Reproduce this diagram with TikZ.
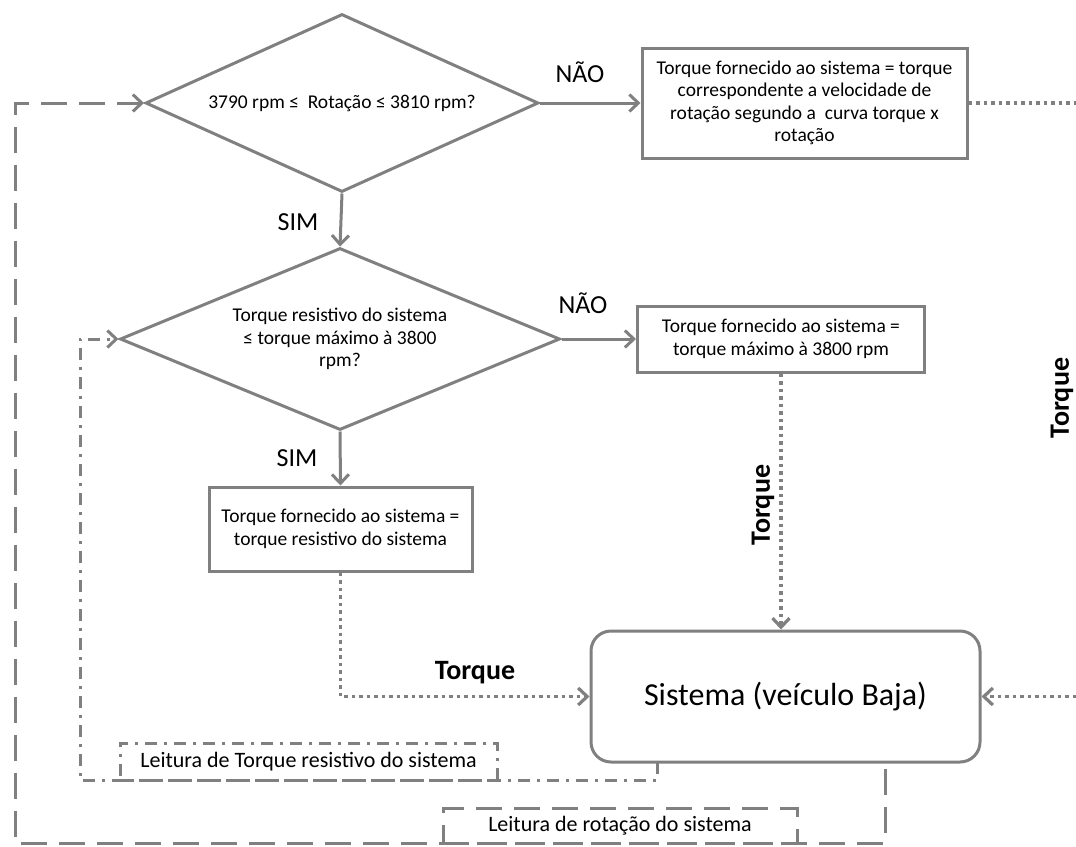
\documentclass[tikz,border=0pt]{standalone}
\usepackage{fontspec}
\setmainfont{Carlito}
\usetikzlibrary{arrows.meta,shapes.geometric}
\definecolor{linegray}{RGB}{128,128,128}

\begin{document}
\begin{tikzpicture}[x=1pt,y=-1pt,
  >={Straight Barb[length=9pt,width=17pt]},
  txt/.style={font=\fontsize{19.5}{22.5}\selectfont, align=center, text=black},
  flow/.style={draw=linegray, line width=3pt},
  decision/.style={flow, diamond, aspect=2.3, inner sep=0pt, txt},
  stepbox/.style={flow, rectangle, inner sep=0pt, txt},
  answer/.style={font=\fontsize{26}{30}\selectfont, text=black},
  signal/.style={font=\bfseries\fontsize{28}{32}\selectfont, text=black, inner sep=0pt},
  readlabel/.style={font=\fontsize{22}{26}\selectfont, text=black, inner sep=0pt},
  solidline/.style={flow, ->},
  dottedline/.style={draw=linegray, line width=3.2pt, dash pattern=on 3.5pt off 4pt},
  dashline/.style={draw=linegray, line width=3pt, dash pattern=on 26pt off 12pt},
  dashdotline/.style={draw=linegray, line width=3pt, dash pattern=on 12pt off 7pt on 3pt off 7pt}
]
\useasboundingbox (0,0) rectangle (1076,846);

% decisions
\node[decision, minimum width=393pt, minimum height=178pt] (d1) at (342,103)
  {3790 rpm ≤ \ Rotação ≤ 3810 rpm?};
\node[decision, minimum width=440pt, minimum height=182pt] (d2) at (340,339)
  {Torque resistivo do sistema\\ ≤ torque máximo à 3800\\ rpm?};

% actions
\node[stepbox, minimum width=325pt, minimum height=110pt] (b1) at (804.5,103)
  {Torque fornecido ao sistema = torque\\ correspondente a velocidade de\\ rotação segundo a \ curva torque x\\ rotação};
\node[stepbox, minimum width=287pt, minimum height=66pt] (b2) at (781,339)
  {Torque fornecido ao sistema =\\ torque máximo à 3800 rpm};
\node[stepbox, minimum width=263pt, minimum height=84pt] (b3) at (340.5,529)
  {Torque fornecido ao sistema =\\ torque resistivo do sistema};

% plant
\node[flow, rectangle, rounded corners=20pt, minimum width=389pt, minimum height=131pt,
  font=\fontsize{32}{38}\selectfont, text=black] (sys) at (785.5,696.5)
  {Sistema (veículo Baja)};

% answers
\node[answer] (n1) at (580,72) {NÃO};
\node[answer] (n2) at (583,303) {NÃO};
\node[answer] (s1) at (298,222) {SIM};
\node[answer] (s2) at (297,458) {SIM};

% decision flow
\draw[solidline] (d1.south) -- (d2.north);
\draw[solidline] (d1.east) -- (b1.west);
\draw[solidline] (d2.east) -- (b2.west);
\draw[solidline] (d2.south) -- (b3.north);

% torque signals
\coordinate (e1) at (1076,103);
\coordinate (e2) at (1076,696.5);
\draw[dottedline] (b1.east) -- (e1);
\draw[dottedline, ->] (e2) -- (sys.east);
\draw[dottedline, ->] (b2.south) -- (b2.south |- sys.north);
\draw[dottedline, ->] (b3.south) |- (sys.west);
\node[signal] (t1) at (475,673) {Torque};
\node[signal, rotate=90] (t2) at (763,505) {Torque};
\node[signal, rotate=90] (t3) at (1062,398) {Torque};

% resistive torque reading
\coordinate (rq) at (657,762);
\coordinate (c1) at (80,780);
\draw[dashdotline, ->] (rq) |- (c1) |- (d2.west);
\node[readlabel, draw=linegray, line width=3pt, dash pattern=on 12pt off 7pt on 3pt off 7pt,
  minimum width=377pt, minimum height=37pt] (l1) at (308.5,761.5)
  {Leitura de Torque resistivo do sistema};

% speed reading
\coordinate (rs) at (885,762);
\coordinate (c2) at (15,843);
\draw[dashline, dash phase=31pt, ->] (rs) |- (c2) |- (d1.west);
\node[readlabel, draw=linegray, line width=3pt, dash pattern=on 26pt off 12pt,
  minimum width=354pt, minimum height=35pt] (l2) at (620,825.5)
  {Leitura de rotação do sistema};
\end{tikzpicture}
\end{document}
